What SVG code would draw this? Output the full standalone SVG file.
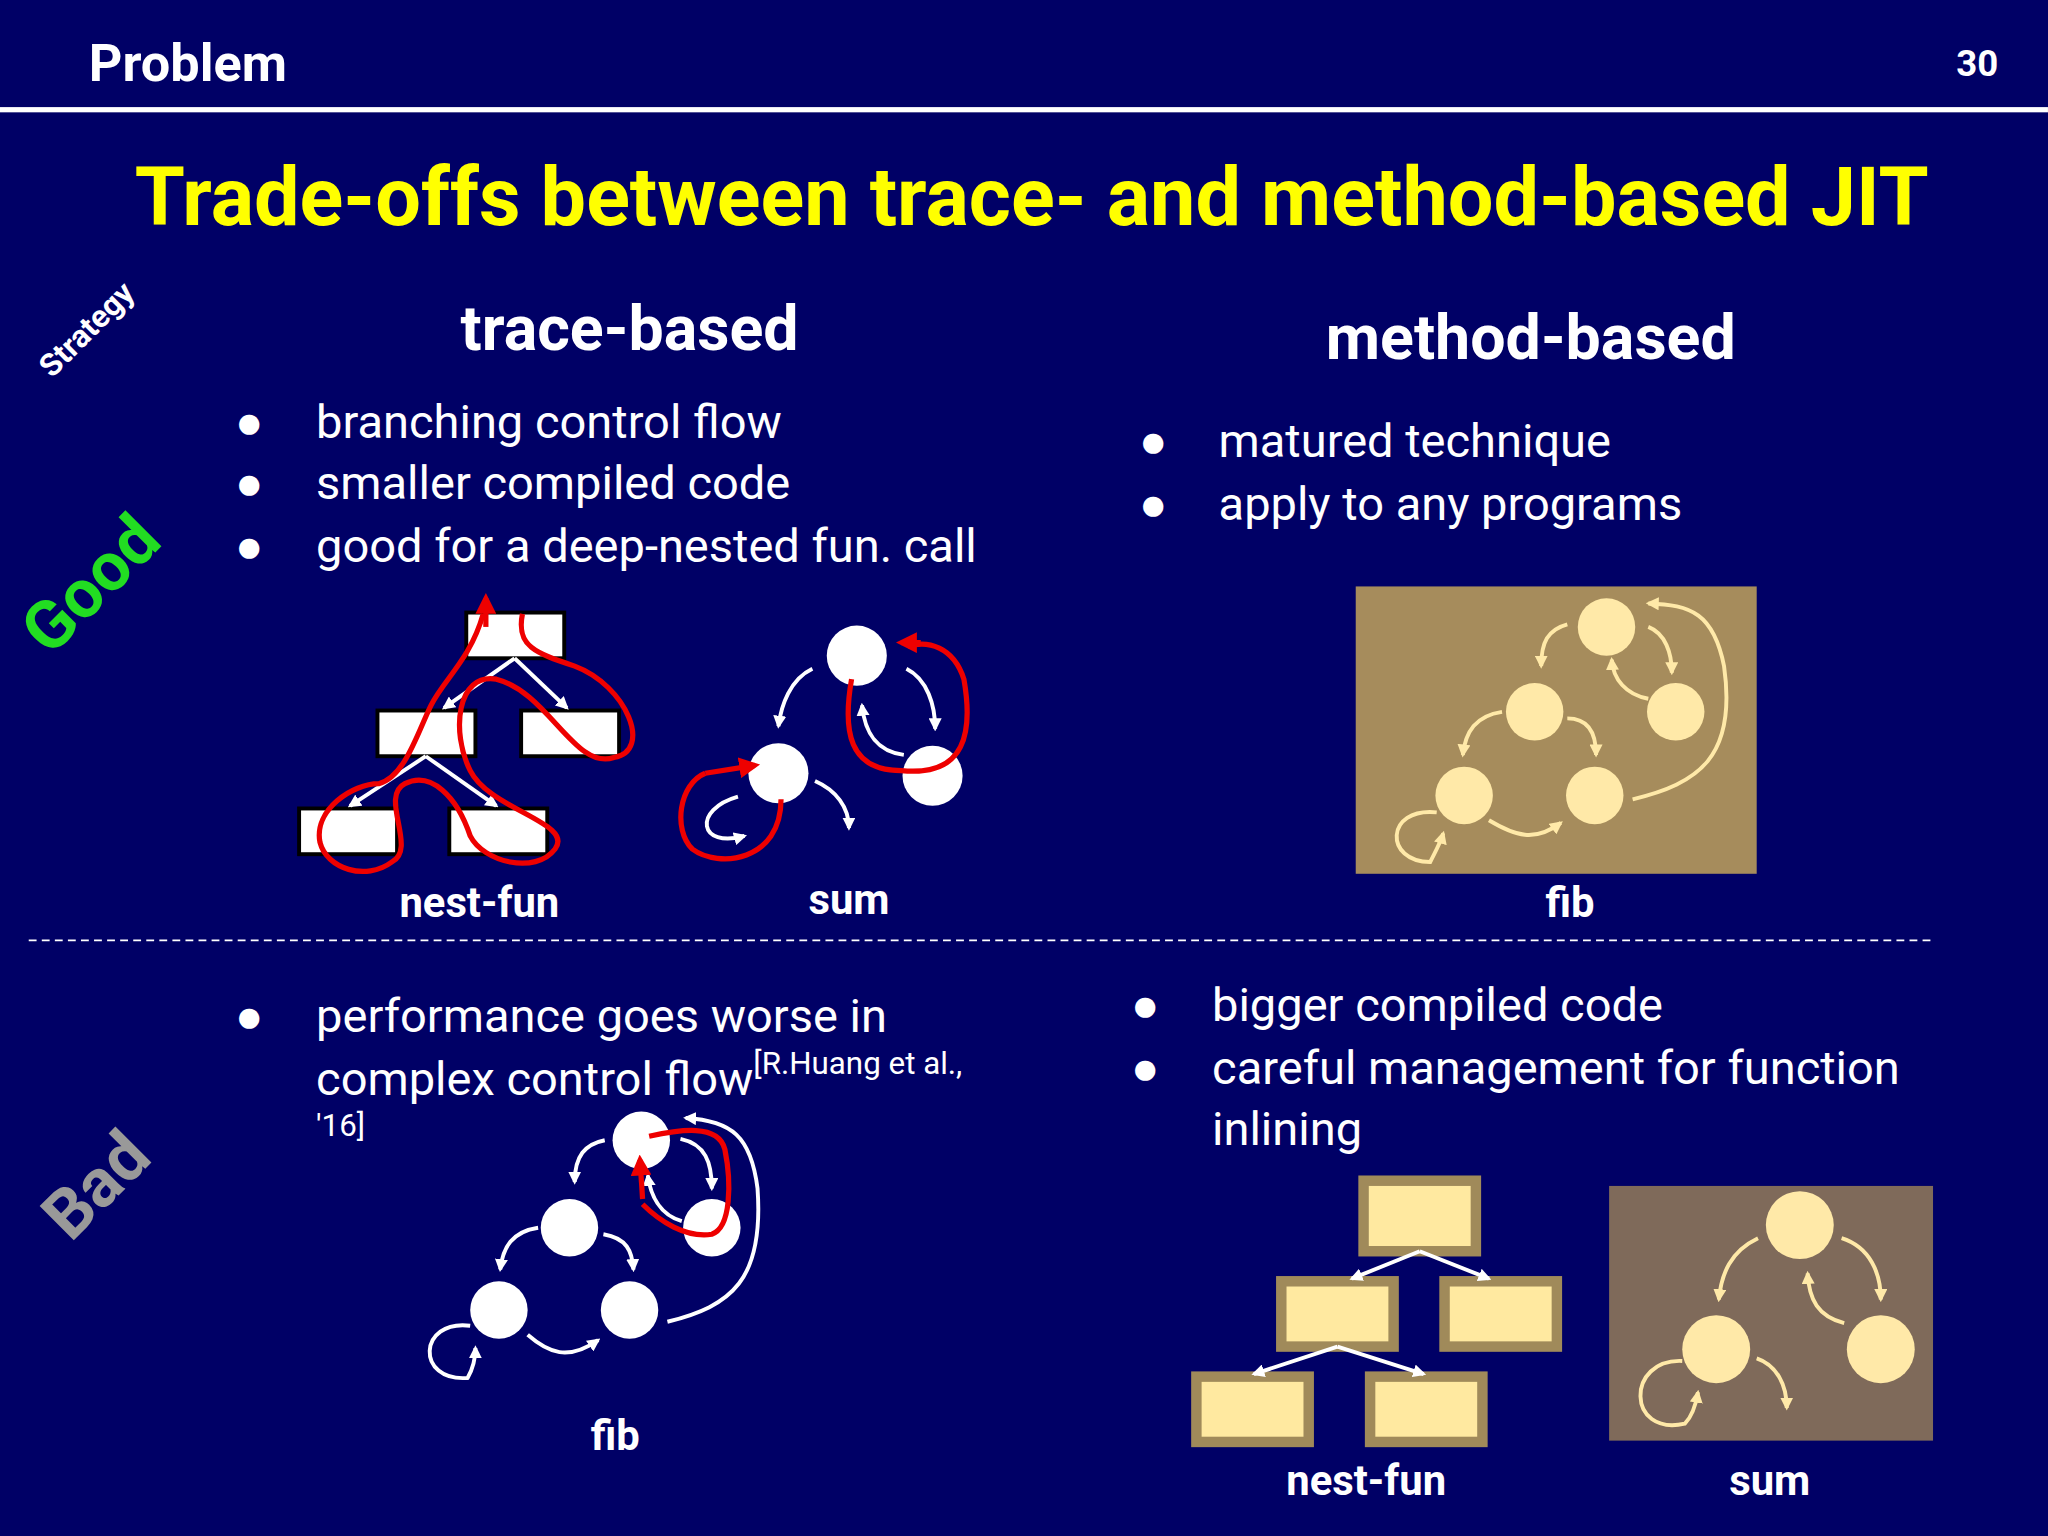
<svg xmlns="http://www.w3.org/2000/svg" width="2048" height="1536" viewBox="0 0 2048 1536">
<style>
text{font-family:Roboto,"Liberation Sans",sans-serif}
.b{font-weight:bold}
.w{fill:#fff}
.bul{fill:#fff;font-size:36px}
.lbl{fill:#fff;font-size:32px;font-weight:bold;text-anchor:middle}
.wb{fill:#fff;stroke:#000;stroke-width:3}
.cb{fill:#ffe9a0;stroke:#a08a5a;stroke-width:8}
.wc{fill:#fff}
.cc{fill:#ffe9a8}
.aw{fill:none;stroke:#fff;stroke-width:3;marker-end:url(#mw)}
.ac{fill:none;stroke:#ffe9a8;stroke-width:3;marker-end:url(#mc)}
.ar{fill:none;stroke:#e00;stroke-width:4;marker-end:url(#mr)}
.rl{fill:none;stroke:#e00;stroke-width:4}
</style>
<defs>
<marker id="mw" markerWidth="10" markerHeight="10" refX="8" refY="5" orient="auto" markerUnits="userSpaceOnUse" viewBox="0 0 10 10"><path d="M0,0L10,5L0,10z" fill="#fff"/></marker>
<marker id="mc" markerWidth="10" markerHeight="10" refX="8" refY="5" orient="auto" markerUnits="userSpaceOnUse" viewBox="0 0 10 10"><path d="M0,0L10,5L0,10z" fill="#ffe9a8"/></marker>
<marker id="mr" markerWidth="16" markerHeight="16" refX="12" refY="8" orient="auto" markerUnits="userSpaceOnUse" viewBox="0 0 16 16"><path d="M0,0L16,8L0,16z" fill="#e00"/></marker>
</defs>
<rect width="2048" height="1536" fill="#000066"/>
<g transform="scale(1.3061)">
<text x="68" y="62" class="w b" font-size="40">Problem</text>
<text x="1530" y="58" class="w b" font-size="28" text-anchor="end">30</text>
<rect x="0" y="82" width="1568" height="4" fill="#fff"/>
<text x="790" y="172" fill="#ffff00" class="b" font-size="62" text-anchor="middle">Trade-offs between trace- and method-based JIT</text>
<text transform="translate(72,258) rotate(-45)" class="w b" font-size="24" text-anchor="middle">Strategy</text>
<text transform="translate(82,460) rotate(-45)" fill="#22dd22" class="b" font-size="52" text-anchor="middle">Good</text>
<text transform="translate(86,920) rotate(-45)" fill="#999" class="b" font-size="52" text-anchor="middle">Bad</text>
<text x="482" y="268" class="w b" font-size="48" text-anchor="middle">trace-based</text>
<text x="1172" y="275" class="w b" font-size="48" text-anchor="middle">method-based</text>
<g class="bul">
<text x="180" y="335">●</text><text x="242" y="335">branching control flow</text>
<text x="180" y="382">●</text><text x="242" y="382">smaller compiled code</text>
<text x="180" y="430">●</text><text x="242" y="430">good for a deep-nested fun. call</text>
<text x="872" y="350">●</text><text x="933" y="350">matured technique</text>
<text x="872" y="398">●</text><text x="933" y="398">apply to any programs</text>
<text x="180" y="790">●</text><text x="242" y="790">performance goes worse in</text>
<text x="242" y="838">complex control flow<tspan font-size="24" dy="-16">[R.Huang et al.,</tspan></text>
<text x="242" y="870" font-size="24">'16]</text>
<text x="866" y="782">●</text><text x="928" y="782">bigger compiled code</text>
<text x="866" y="830">●</text><text x="928" y="830">careful management for function</text>
<text x="928" y="877">inlining</text>
</g>
<line x1="22" y1="720" x2="1480" y2="720" stroke="#fff" stroke-width="1.5" stroke-dasharray="6,4"/>

<g id="nestfun-good">
<rect class="wb" x="357" y="469" width="75" height="35"/>
<rect class="wb" x="289" y="544" width="75" height="35"/>
<rect class="wb" x="399" y="544" width="75" height="35"/>
<rect class="wb" x="229" y="619" width="75" height="35"/>
<rect class="wb" x="344" y="619" width="75" height="35"/>
<text x="367" y="702" class="lbl">nest-fun</text>
</g>
<g id="sum-good">
<circle class="wc" cx="656" cy="502" r="23"/><circle class="wc" cx="596" cy="592" r="23"/><circle class="wc" cx="714" cy="594" r="23"/>
<text x="650" y="700" class="lbl">sum</text>
</g>
<g id="fib-method">
<rect x="1038" y="449" width="307" height="220" fill="#a68c5c"/>
<circle class="cc" cx="1230" cy="480" r="22"/><circle class="cc" cx="1175" cy="545" r="22"/><circle class="cc" cx="1283" cy="545" r="22"/><circle class="cc" cx="1121" cy="609" r="22"/><circle class="cc" cx="1221" cy="609" r="22"/>
<text x="1202" y="702" class="lbl">fib</text>
</g>
<g id="fib-trace">
<circle class="wc" cx="491" cy="873" r="22"/><circle class="wc" cx="436" cy="940" r="22"/><circle class="wc" cx="545" cy="940" r="22"/><circle class="wc" cx="382" cy="1003" r="22"/><circle class="wc" cx="482" cy="1003" r="22"/>
<text x="471" y="1110" class="lbl">fib</text>
</g>
<g id="nestfun-method">
<rect class="cb" x="1044" y="904" width="86" height="54"/>
<rect class="cb" x="981" y="981" width="86" height="50"/>
<rect class="cb" x="1106" y="981" width="86" height="50"/>
<rect class="cb" x="916" y="1054" width="86" height="50"/>
<rect class="cb" x="1049" y="1054" width="86" height="50"/>
<text x="1046" y="1145" class="lbl">nest-fun</text>
</g>
<g id="sum-method">
<rect x="1232" y="908" width="248" height="195" fill="#7f6a5a"/>
<circle class="cc" cx="1378" cy="938" r="26"/><circle class="cc" cx="1314" cy="1033" r="26"/><circle class="cc" cx="1440" cy="1033" r="26"/>
<text x="1355" y="1145" class="lbl">sum</text>
</g>

<g id="connectors">
<!-- good nest-fun -->
<path class="aw" d="M394,504 L340,542"/><path class="aw" d="M394,504 L434,542"/>
<path class="aw" d="M326,579 L268,617"/><path class="aw" d="M326,579 L380,617"/>
<path class="rl" d="M400,470 C395,495 410,500 440,510 C480,525 500,575 470,580 C440,590 420,530 380,520 C350,515 345,560 360,590 C375,620 440,630 425,650 C410,670 370,660 360,640 C350,610 330,590 310,600 C290,610 320,650 300,660 C280,675 250,665 245,645 C240,620 270,600 290,600 C310,595 320,560 330,540 C340,520 360,505 370,470"/>
<path class="ar" d="M372,480 L372,458"/>
<!-- good sum -->
<path class="aw" d="M622,512 C605,520 598,540 596,556"/>
<path class="aw" d="M694,512 C710,520 716,540 716,558"/>
<path class="aw" d="M692,578 C670,575 662,560 660,540"/>
<path class="aw" d="M624,598 C640,605 650,618 650,634"/>
<path class="aw" d="M565,610 C530,620 535,650 570,640"/>
<path class="rl" d="M652,520 C645,560 650,590 690,590 C740,595 745,560 738,520 C730,495 710,490 695,495"/>
<path class="ar" d="M705,492 L690,492"/>
<path class="rl" d="M598,612 C598,660 550,665 530,650 C515,635 520,600 540,592"/>
<path class="ar" d="M540,592 L578,586"/>
<!-- fib method -->
<path class="ac" d="M1200,478 C1185,482 1180,492 1180,510"/>
<path class="ac" d="M1262,480 C1275,485 1280,500 1280,515"/>
<path class="ac" d="M1262,535 C1245,532 1235,520 1234,505"/>
<path class="ac" d="M1150,545 C1130,548 1122,560 1120,578"/>
<path class="ac" d="M1200,550 C1215,550 1222,560 1222,578"/>
<path class="ac" d="M1140,628 C1160,640 1175,645 1195,630"/>
<path class="ac" d="M1250,612 C1300,600 1330,580 1320,510 C1312,470 1295,463 1262,462"/>
<path class="ac" d="M1100,622 C1060,618 1060,660 1095,660 C1100,650 1103,645 1105,638"/>
<!-- bad fib -->
<path class="aw" d="M463,873 C448,876 440,885 440,905"/>
<path class="aw" d="M521,872 C540,876 545,890 545,910"/>
<path class="aw" d="M522,935 C505,930 498,915 496,900"/>
<path class="aw" d="M412,940 C392,943 385,955 383,972"/>
<path class="aw" d="M462,945 C480,948 484,958 485,972"/>
<path class="aw" d="M404,1022 C420,1036 435,1042 458,1026"/>
<path class="aw" d="M511,1012 C560,1000 585,980 580,910 C575,870 560,858 525,856"/>
<path class="aw" d="M360,1015 C320,1010 318,1058 358,1055 C362,1048 364,1040 364,1032"/>
<path class="rl" d="M497,870 C520,865 550,860 555,880 C560,905 560,940 545,945 C525,948 505,935 492,922"/>
<path class="ar" d="M492,918 L490,888"/>
<!-- bad nest-fun -->
<path class="aw" d="M1087,958 L1035,979"/><path class="aw" d="M1087,958 L1140,979"/>
<path class="aw" d="M1024,1031 L960,1052"/><path class="aw" d="M1024,1031 L1090,1052"/>
<!-- bad sum -->
<path class="ac" d="M1346,948 C1325,958 1318,975 1316,995"/>
<path class="ac" d="M1410,948 C1432,955 1440,975 1440,995"/>
<path class="ac" d="M1412,1013 C1392,1008 1385,995 1384,975"/>
<path class="ac" d="M1345,1040 C1360,1045 1368,1060 1368,1078"/>
<path class="ac" d="M1288,1042 C1245,1040 1245,1100 1290,1090 C1295,1085 1298,1078 1300,1066"/>
</g>
</g>
</svg>
